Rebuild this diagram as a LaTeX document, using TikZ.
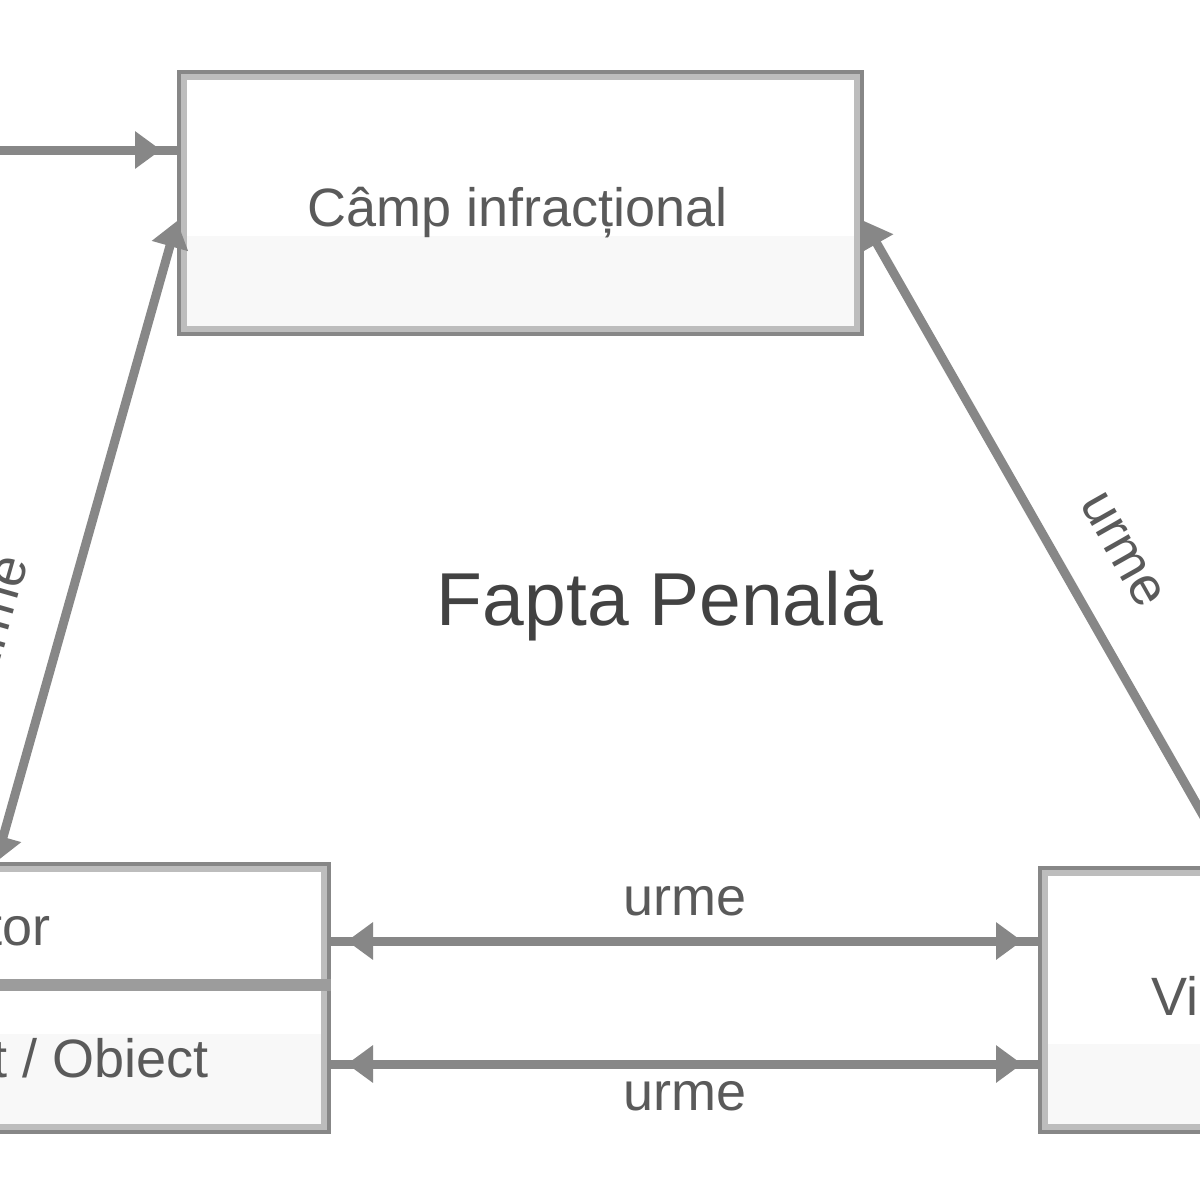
\documentclass[tikz,border=0pt]{standalone}
\usepackage{fontspec}
\setmainfont{Liberation Sans}
\usetikzlibrary{arrows.meta,calc}
\definecolor{edge}{HTML}{878787}
\definecolor{edgelight}{HTML}{BDBDBD}
\definecolor{divcol}{HTML}{9C9C9C}
\definecolor{boxshade}{HTML}{F8F8F8}
\definecolor{txt}{HTML}{5A5A5A}
\definecolor{txtdark}{HTML}{424242}
\begin{document}
\begin{tikzpicture}[x=0.5pt,y=-0.5pt,
  box/.style={draw=edge, line width=4pt, inner sep=0pt, fill=white},
  innerband/.style={draw=edgelight, line width=3pt},
  lbl/.style={text=txt, font=\fontsize{27}{30}\selectfont, inner sep=0pt},
  title/.style={text=txtdark, font=\fontsize{37.5}{40}\selectfont, inner sep=0pt},
  conn/.style={draw=edge, line width=4.5pt},
  tipboth/.style={{Triangle[length=13pt,width=18pt]}-{Triangle[length=13pt,width=18pt]}},
  tipend/.style={-{Triangle[length=13pt,width=18pt]}},
]
\useasboundingbox (0,0) rectangle (1200,1200);
\fill[white] (0,0) rectangle (1200,1200);
\clip (0,0) rectangle (1200,1200);

% ---------- boxes ----------
\node[box, minimum width=339.5pt, minimum height=129pt] (camp) at (520.5,203) {};
\fill[boxshade] ($(camp.north west)+(4,166)$) rectangle ($(camp.south east)+(-4,-4)$);
\draw[innerband] ($(camp.south west)+(7,-7)$) rectangle ($(camp.north east)+(-7,7)$);

\node[box, minimum width=363.5pt, minimum height=132pt] (fapt) at (-36.5,998) {};
\fill[boxshade] ($(fapt.south west)+(4,-100)$) rectangle ($(fapt.south east)+(-4,-4)$);
\draw[innerband] ($(fapt.south west)+(7,-7)$) rectangle ($(fapt.north east)+(-7,7)$);
\coordinate (divy) at (0,985);
\draw[divcol, line width=6pt] (fapt.west |- divy) -- (fapt.east |- divy);

\node[box, minimum width=329pt, minimum height=130pt] (vict) at (1371,1000) {};
\fill[boxshade] ($(vict.south west)+(4,-90)$) rectangle ($(vict.south east)+(-4,-4)$);
\draw[innerband] ($(vict.south west)+(7,-7)$) rectangle ($(vict.north east)+(-7,7)$);

% ---------- texts ----------
\node[lbl, anchor=base] (camptxt) at (518,226) {Câmp infracțional};
\node[lbl, anchor=base east] (fapttxt) at (51,945) {Făptuitor};
\node[lbl, anchor=base east] (insttxt) at (209,1077) {Instrument / Obiect};
\node[lbl, anchor=base west] (victtxt) at (1151,1015) {Victima};
\node[title, anchor=base] (fapta) at (660,625) {Fapta Penală};

% ---------- connectors ----------
\coordinate (src) at (-60,150);
\coordinate (r1) at (0,941);
\coordinate (r2) at (0,1064);

% incoming arrow to the field
\draw[conn] (src) -- (camp.west |- src);
\draw[conn, tipend, shorten >=8pt] (src) -- (camp.west |- src);

% author <-> field
\draw[conn, tipboth] (-4,0 |- fapt.north) -- (camp.west |- 0,221);
% victim <-> field
\draw[conn, tipboth] (1232,0 |- vict.north) -- (camp.east |- 0,221);

% author <-> victim
\draw[conn] (fapt.east |- r1) -- (vict.west |- r1);
\draw[conn, tipboth, shorten <=8pt, shorten >=8pt] (fapt.east |- r1) -- (vict.west |- r1);
\draw[conn] (fapt.east |- r2) -- (vict.west |- r2);
\draw[conn, tipboth, shorten <=8pt, shorten >=8pt] (fapt.east |- r2) -- (vict.west |- r2);

% connector labels
\node[lbl, anchor=base] (u1) at (685,915) {urme};
\node[lbl, anchor=base] (u2) at (685,1110) {urme};
\node[lbl, rotate=-60.5] (u3) at (1122,550) {urme};
\node[lbl, rotate=74] (u4) at (-2,617) {urme};
\end{tikzpicture}
\end{document}
